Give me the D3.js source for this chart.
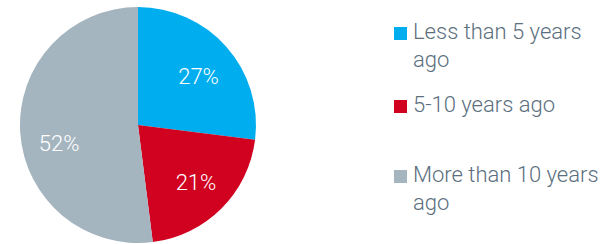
<!DOCTYPE html>
<html lang="en">
<head>
<meta charset="utf-8">
<title>Pie</title>
<style>
  body { margin: 0; background: #fff; }
  text { font-family: Roboto, sans-serif; font-weight: 300; }
</style>
</head>
<body>
<div id="chart"></div>
<script src="https://d3js.org/d3.v7.min.js"></script>
<script type="text/javascript">
  // data
  var categories = ["Less than 5 years ago", "5-10 years ago", "More than 10 years ago"];
  var values = [27, 21, 52];
  var colors = ["#00aeef", "#d0021f", "#a5b5c0"];
  // legend lines (wrapped like the original)
  var legendLines = [["Less than 5 years", "ago"], ["5-10 years ago"], ["More than 10 years", "ago"]];

  var width = 609, height = 244;
  var cx = 138, cy = 125, radius = 118;

  var svg = d3.select("#chart")
    .append("svg")
    .attr("width", width)
    .attr("height", height);

  var pie = d3.pie().sort(null).value(function(d) { return d; });
  var arcs = pie(values);

  var arc = d3.arc().innerRadius(0).outerRadius(radius);
  var labelArc = d3.arc().innerRadius(82).outerRadius(82);
  // small nudges so the labels sit where the original put them
  var nudge = [[-1, 5], [0, -1], [3, 13]];

  var g = svg.append("g").attr("transform", "translate(" + cx + "," + cy + ")");

  g.selectAll("path")
    .data(arcs)
    .enter().append("path")
    .attr("d", arc)
    .attr("fill", function(d, i) { return colors[i]; });

  g.selectAll(".lbl")
    .data(arcs)
    .enter().append("text")
    .attr("class", "lbl")
    .attr("transform", function(d, i) {
      var c = labelArc.centroid(d);
      return "translate(" + (c[0] + nudge[i][0]) + "," + (c[1] + nudge[i][1]) + ")";
    })
    .attr("text-anchor", "middle")
    .attr("dy", "0.36em")
    .attr("fill", "#fff")
    .style("font-size", "22px")
    .text(function(d) { return d.value + "%"; });

  // legend
  var legendY = [39, 112, 182];
  var legend = svg.selectAll(".leg")
    .data(categories)
    .enter().append("g")
    .attr("class", "leg")
    .attr("transform", function(d, i) { return "translate(394," + legendY[i] + ")"; });

  legend.append("rect")
    .attr("x", 0)
    .attr("y", -12)
    .attr("width", 13)
    .attr("height", 13)
    .attr("fill", function(d, i) { return colors[i]; });

  legend.append("text")
    .attr("x", 19)
    .attr("fill", "#5b6f7e")
    .style("font-size", "22px")
    .selectAll("tspan")
    .data(function(d, i) { return legendLines[i]; })
    .enter().append("tspan")
    .attr("x", 19)
    .attr("dy", function(d, j) { return j === 0 ? 0 : 28; })
    .text(function(d) { return d; });
</script>
</body>
</html>
